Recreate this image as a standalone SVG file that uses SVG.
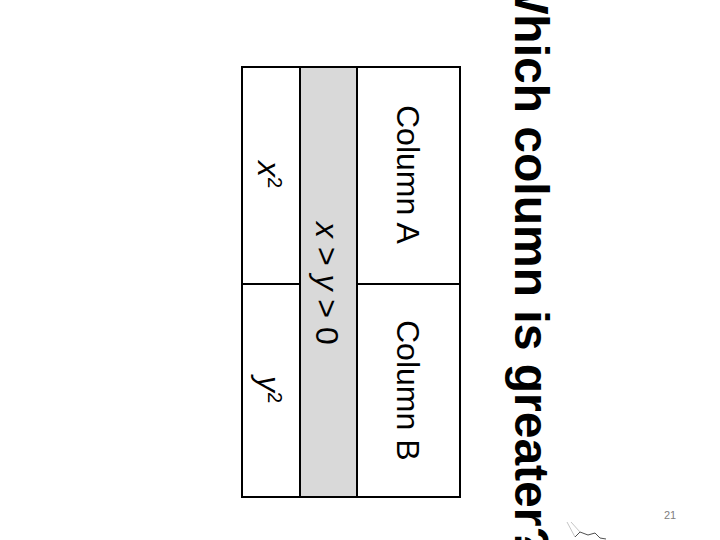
<svg xmlns="http://www.w3.org/2000/svg" width="720" height="540" viewBox="0 0 720 540">
<style>
text{font-family:"Liberation Sans",Arial,sans-serif;fill:#000}
.t{font-size:32px}
.g{fill:none;stroke:#000;stroke-width:2}
</style>
<rect width="720" height="540" fill="#fff"/>
<g id="title"><text transform="translate(515,-31) rotate(90)" font-size="48" font-weight="bold">Which column is greater?</text></g>
<g id="table">
<rect x="300" y="67" width="57" height="430" fill="#d9d9d9"/>
<rect class="g" x="242" y="67" width="218" height="430"/>
<path class="g" d="M300 67V497M357 67V497M242 284H300M357 284H460"/>
</g>
<g id="column-a"><text class="t" transform="translate(397,105) rotate(90)">Column A</text></g>
<g id="column-b"><text class="t" transform="translate(397,320) rotate(90)">Column B</text></g>
<g id="given"><text class="t" transform="translate(316,222) rotate(90)"><tspan font-style="italic">x</tspan> &gt; <tspan font-style="italic">y</tspan> &gt; 0</text></g>
<g id="x2"><text class="t" transform="translate(258,161) rotate(90)"><tspan font-style="italic">x</tspan><tspan font-size="20" dy="-10">2</tspan></text></g>
<g id="y2"><text class="t" transform="translate(258,376) rotate(90)"><tspan font-style="italic">y</tspan><tspan font-size="20" dy="-10">2</tspan></text></g>
<text x="664" y="519" font-size="11" style="fill:#808080">21</text>
<path d="M575 537L580 532L588 535L595 533L600 538L606 539" fill="none" stroke="#222" stroke-width="0.8"/>
<path d="M567 522L575 537M571 522L580 532" fill="none" stroke="#aaa" stroke-width="0.7"/>
</svg>
